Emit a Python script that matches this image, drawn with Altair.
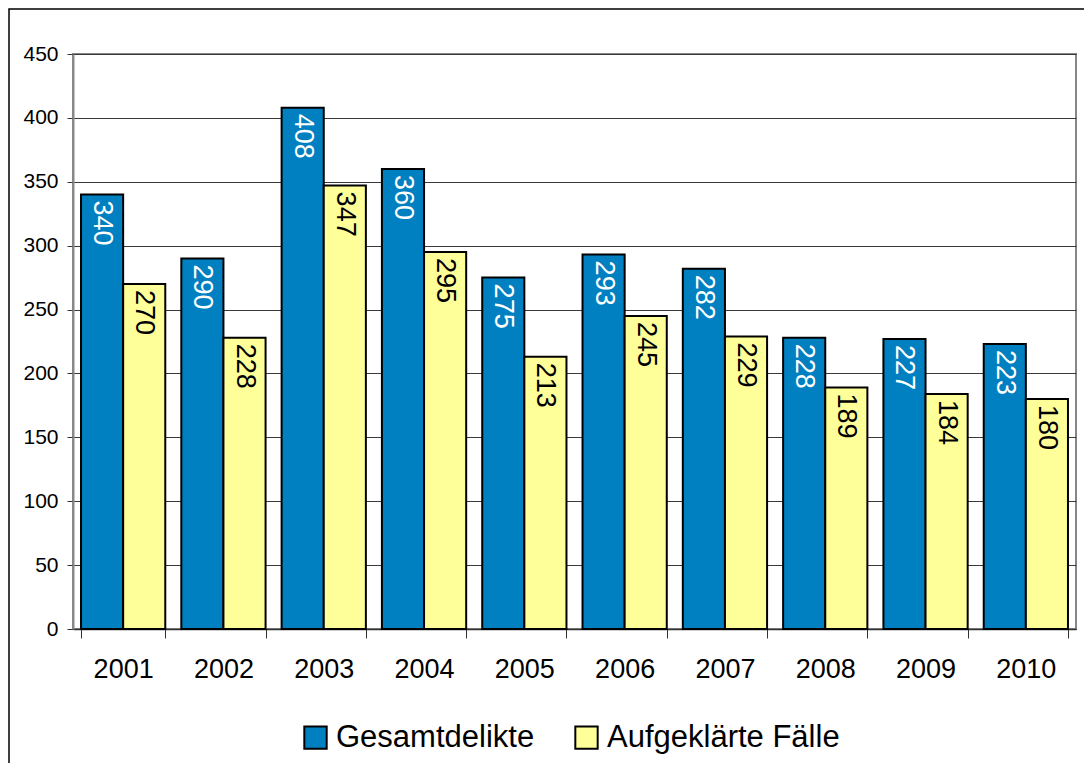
import altair as alt
import pandas as pd

years = ["2001", "2002", "2003", "2004", "2005", "2006", "2007", "2008", "2009", "2010"]
gesamt = [340, 290, 408, 360, 275, 293, 282, 228, 227, 223]
aufgeklaert = [270, 228, 347, 295, 213, 245, 229, 189, 184, 180]
series = ["Gesamtdelikte", "Aufgeklärte Fälle"]
colors = ["#0080C0", "#FFFF99"]
label_colors = ["white", "black"]
y_ticks = [0, 50, 100, 150, 200, 250, 300, 350, 400, 450]

rows = []
for i, yr in enumerate(years):
    rows.append({"year": yr, "series": series[0], "value": gesamt[i], "tc": label_colors[0]})
    rows.append({"year": yr, "series": series[1], "value": aufgeklaert[i], "tc": label_colors[1]})
df = pd.DataFrame(rows)

FONT = "Liberation Sans"

x_enc = alt.X(
    "year:N", sort=years, title=None,
    scale=alt.Scale(paddingInner=0.16, paddingOuter=0.08),
    axis=alt.Axis(labelAngle=0, labelFontSize=27, labelFont=FONT, labelColor="black",
                  labelPadding=18, tickBand="extent", tickSize=9, tickColor="#333333",
                  domainColor="#333333", domainWidth=1.5, grid=False),
)
xo_enc = alt.XOffset("series:N", sort=series,
                     scale=alt.Scale(domain=series, paddingInner=0, paddingOuter=0))
y_enc = alt.Y(
    "value:Q", title=None,
    scale=alt.Scale(domain=[0, 450], nice=False),
    axis=alt.Axis(values=y_ticks, labelFontSize=21, labelFont=FONT, labelColor="black",
                  labelPadding=9, tickSize=6, tickColor="#333333", domainColor="#888888",
                  domainWidth=2, grid=True, gridColor="#3a3a3a", gridWidth=1),
)

bars = alt.Chart(df).mark_bar(stroke="black", strokeWidth=2).encode(
    x=x_enc,
    xOffset=xo_enc,
    y=y_enc,
    color=alt.Color(
        "series:N",
        scale=alt.Scale(domain=series, range=colors),
        legend=alt.Legend(orient="none", legendX=227, legendY=668, direction="horizontal",
                          title=None, symbolType="square", symbolSize=500,
                          symbolStrokeColor="black", symbolStrokeWidth=2,
                          labelFontSize=31, labelFont=FONT, labelColor="black",
                          labelLimit=0, columnPadding=36, labelOffset=5, padding=0),
    ),
)

labels = alt.Chart(df).mark_text(angle=90, align="left", baseline="middle", dx=6,
                                  fontSize=27, font=FONT).encode(
    x=x_enc,
    xOffset=xo_enc,
    y=alt.Y("value:Q"),
    text=alt.Text("value:Q"),
    color=alt.Color("tc:N", scale=None),
)

frame = alt.Chart(pd.DataFrame({"a": [0]})).mark_rect(
    filled=False, stroke="black", strokeWidth=1.5
).encode(x=alt.value(-64), x2=alt.value(1040), y=alt.value(-45), y2=alt.value(740))

chart = alt.layer(frame, bars, labels).properties(
    width=1003, height=575,
    autosize=alt.AutoSizeParams(type="none"),
    padding={"left": 65, "top": 46, "right": 8, "bottom": 134},
    background="white",
).configure_view(stroke="#888888", strokeWidth=2)

chart.save("out.html", embed_options={"renderer": "svg", "actions": False})
